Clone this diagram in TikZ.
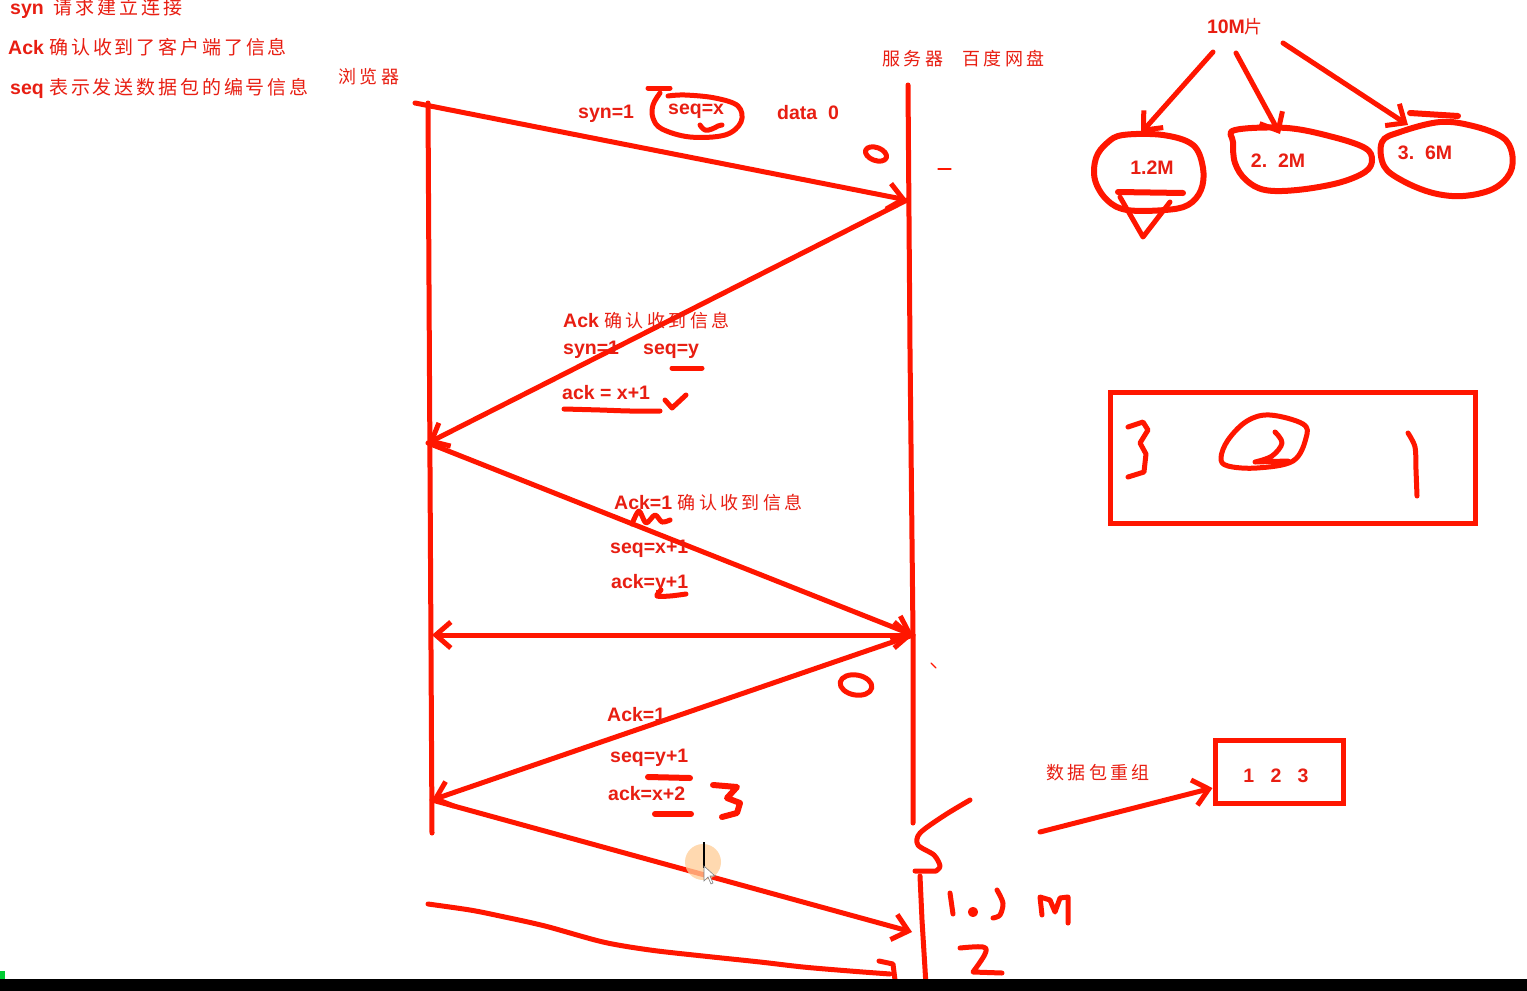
\documentclass[tikz,border=0pt]{standalone}
\usepackage{fontspec}
\setmainfont{Liberation Sans}
\newfontfamily\cjkA[LetterSpace=19]{Noto Sans CJK SC}
\newfontfamily\cjkB[LetterSpace=15]{Noto Sans CJK SC}
\usetikzlibrary{arrows.meta}
\definecolor{pen}{RGB}{255,22,0}
\definecolor{ink}{RGB}{232,30,18}
\definecolor{halo}{RGB}{255,205,150}
\newcommand\zh[1]{{\cjkA\mdseries\fontsize{18}{22}\selectfont #1}}
\newcommand\zhb[1]{{\cjkB\mdseries\fontsize{19}{22}\selectfont #1}}
\tikzset{
  pen/.style={draw=pen, line width=5pt, line cap=round, line join=round},
  fatpen/.style={pen, line width=6pt},
  arr/.style={pen, -{Straight Barb[length=15pt,width=26pt]}},
  darr/.style={pen, {Straight Barb[length=15pt,width=26pt]}-{Straight Barb[length=15pt,width=26pt]}},
  lbl/.style={text=ink, font=\bfseries\fontsize{19.5}{22}\selectfont, inner sep=0pt, anchor=west},
  lblc/.style={lbl, anchor=center},
}
\begin{document}
\begin{tikzpicture}[x=1pt,y=-1pt]
\useasboundingbox (0,0) rectangle (1527,991);
\fill[white] (0,0) rectangle (1527,991);

% ---------- legend text, top left ----------
\node[lbl] (t1) at (10,8) {syn\hspace{10pt}\zhb{请求建立连接}};
\node[lbl] (t2) at (8,47) {Ack \zhb{确认收到了客户端了信息}};
\node[lbl] (t3) at (10,88) {seq \zhb{表示发送数据包的编号信息}};
\node[lbl] (browser) at (338,77) {\zh{浏览器}};
\node[lbl] (server) at (882,59) {\zh{服务器}};
\node[lbl] (baidu) at (962,59) {\zh{百度网盘}};

% ---------- lifelines ----------
\coordinate (btop) at (428,103);
\coordinate (bbot) at (432,833);
\coordinate (stop) at (908,85);
\coordinate (sbot) at (913,823);
\draw[pen] (btop) -- (bbot);
\draw[pen] (stop) -- (910,350) -- (913,635) -- (sbot);

\coordinate (b0) at (415,103);
\coordinate (s1) at (907,200);
\coordinate (b1) at (428,443);
\coordinate (s2) at (913,635);
\coordinate (b2) at (432,635);
\coordinate (b3) at (432,800);
\coordinate (s3) at (912,932);

\draw[arr] (b0) -- (s1);
\draw[arr] (s1) -- (b1);
\draw[arr] (b1) -- (s2);
\draw[darr] (b2) -- (s2);
\draw[arr] (s2) -- (b3);
\draw[arr] (b3) -- (s3);

% ---------- message labels ----------
\node[lbl] (m1a) at (578,114) {syn=1};
\node[lbl] (m1b) at (668,111) {seq=x};
\node[lbl] (m1c) at (777,113) {data\ \ 0};
\draw[pen] (648,88) -- (670,88);
\draw[pen] plot[smooth, tension=0.6] coordinates {(660,93) (653,105) (653,118) (662,129) (690,137) (725,135) (741,122) (738,106) (715,98) (685,95) (668,96)};
\draw[pen] plot[smooth, tension=0.7] coordinates {(700,125) (705,130) (712,129) (718,126) (722,125)};
\draw[pen] (876,154) ellipse [x radius=11, y radius=6.5, rotate=-20];
\draw[pen, line width=1.2pt] (938,169) -- (951,169);

\node[lbl] (m2a) at (563,321) {Ack \zh{确认收到信息}};
\node[lbl] (m2b) at (563,350) {syn=1};
\node[lbl] (m2c) at (643,351) {seq=y};
\node[lbl] (m2d) at (562,393) {ack = x+1};
\draw[pen] (672,368) -- (702,368);
\draw[pen] plot[smooth] coordinates {(564,409) (600,410) (630,411) (660,411)};
\draw[pen] (665,400) -- (672,408) -- (686,395);

\node[lbl] (m3a) at (614,503) {Ack=1 \zh{确认收到信息}};
\node[lbl] (m3b) at (610,549) {seq=x+1};
\node[lbl] (m3c) at (611,583) {ack=y+1};
\draw[pen] plot[smooth, tension=0.5] coordinates {(632,524) (639,511) (646,523) (655,515) (662,522) (670,520)};
\draw[pen] plot[smooth] coordinates {(661,590) (657,596) (670,596) (686,594)};

\draw[pen] (856,685) ellipse [x radius=16, y radius=10, rotate=-10];
\draw[pen, line width=1.2pt] (931,663) -- (936,668);

\node[lbl] (m4a) at (607,715) {Ack=1};
\node[lbl] (m4b) at (610,758) {seq=y+1};
\node[lbl] (m4c) at (608,794) {ack=x+2};
\draw[fatpen] (648,777) -- (690,778);
\draw[fatpen] (655,814) -- (691,814);
\draw[fatpen] (713,785) -- (737,787) -- (727,798) -- (740,803) -- (737,813) -- (722,817);

% ---------- cursor ----------
\fill[halo, opacity=0.75] (703,862) circle (18);
\draw[black, line width=1.2pt] (704,842) -- (704,868);
\filldraw[fill=white, draw=gray, line width=0.6pt] (704,866) -- (704,881) -- (708,877) -- (711,884) -- (713,883) -- (710,876) -- (715,876) -- cycle;

% ---------- bottom: server squiggle and handwriting ----------
\draw[pen] plot[smooth, tension=0.5] coordinates {(970,800) (945,815) (920,833) (918,845) (934,855) (940,866) (936,871)} -- (915,871);
\draw[pen] (920,876) -- (922,920) -- (926,985);
\draw[pen] (950,893) -- (953,914);
\fill[pen] (973,912) circle (2.5);
\draw[pen] plot[smooth] coordinates {(997,890) (1003,903) (1000,915) (993,918)};
\draw[pen] (1042,915) -- (1040,897) -- (1050,900) -- (1055,912) -- (1060,898) -- (1068,897) -- (1068,923);
\draw[pen] plot[smooth, tension=0.6] coordinates {(960,948) (983,947) (985,954) (973,972)} -- (1002,973);

\draw[pen] plot[smooth, tension=0.5] coordinates {(428,904) (470,910) (500,916) (545,926) (603,942) (650,950) (703,956) (760,962) (803,967) (850,971) (890,974)};
\draw[pen] (879,961) -- (893,964) -- (895,980);

% ---------- fragmentation sketch ----------
\node[lblc] (tenm) at (1235,27) {10M\zh{片}};
\node[lblc] (p1) at (1152,168) {1.2M};
\node[lblc] (p2) at (1278,161) {2.\ \ 2M};
\node[lblc] (p3) at (1425,153) {3.\ \ 6M};
\coordinate (a1s) at (1213,52);
\coordinate (a2s) at (1236,53);
\coordinate (a3s) at (1283,43);
\coordinate (a1e) at (1141,133);
\coordinate (a2e) at (1280,134);
\coordinate (a3e) at (1408,125);
\draw[arr] (a1s) -- (a1e);
\draw[arr] (a2s) -- (a2e);
\draw[arr] (a3s) -- (a3e);
\draw[fatpen] plot[smooth cycle, tension=0.6] coordinates {(1123,135) (1163,135) (1193,145) (1203,168) (1201,190) (1188,205) (1165,210) (1127,210) (1107,200) (1095,180) (1096,158) (1107,143)};
\draw[fatpen] (1118,192) -- (1183,193);
\draw[pen] (1120,197) -- (1143,237) -- (1170,202);
\draw[fatpen] plot[smooth cycle, tension=0.6] coordinates {(1235,130) (1287,128) (1333,137) (1365,148) (1372,160) (1365,172) (1338,183) (1297,190) (1265,190) (1246,180) (1235,163) (1233,142)};
\draw[fatpen] (1410,113) -- (1458,116);
\draw[fatpen] plot[smooth cycle, tension=0.6] coordinates {(1382,142) (1400,132) (1440,122) (1473,126) (1502,137) (1512,153) (1510,173) (1493,189) (1463,196) (1433,193) (1403,181) (1384,166)};

% ---------- box 3 2 1 ----------
\node[draw=pen, line width=5pt, minimum width=365pt, minimum height=131pt, inner sep=0pt] (box321) at (1292.5,457.5) {};
\draw[pen] (1128,427) -- (1143,422) -- (1148,430) -- (1140,443) -- (1146,454) -- (1144,472) -- (1128,477);
\draw[pen] plot[smooth cycle, tension=0.6] coordinates {(1221,458) (1228,440) (1247,421) (1270,415) (1303,424) (1306,438) (1293,461) (1257,468) (1228,466)};
\draw[pen] plot[smooth, tension=0.6] coordinates {(1275,432) (1282,443) (1272,456) (1255,462)} -- (1288,461);
\draw[pen] plot[smooth] coordinates {(1408,433) (1415,447) (1416,470) (1417,496)};

% ---------- reassembly box ----------
\node[draw=pen, line width=5pt, minimum width=128pt, minimum height=63pt, inner sep=0pt] (box123) at (1279,771.5) {};
\node[lblc] (n123) at (1276,776) {1\ \ \ 2\ \ \ 3};
\node[lbl] (reasm) at (1046,773) {\zh{数据包重组}};
\coordinate (rs) at (1040,832);
\draw[arr] (rs) -- (box123.west |- 0,788);

% ---------- screen frame ----------
\fill[black] (0,979) rectangle (1527,991);
\fill[green!60!teal] (0,971) rectangle (5,979);
\end{tikzpicture}
\end{document}
